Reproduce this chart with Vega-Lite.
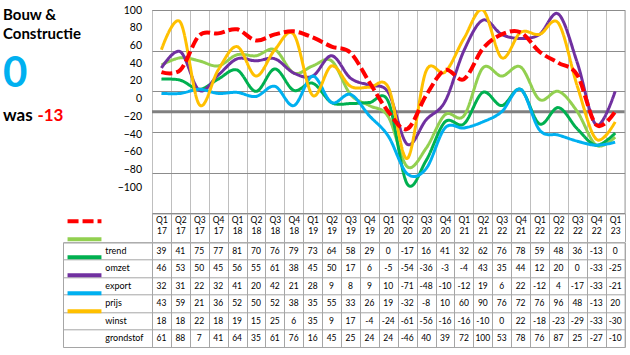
{
  "$schema": "https://vega.github.io/schema/vega-lite/v6.json",
  "background": "white",
  "padding": {"left": 3, "top": 4, "right": 0, "bottom": 0},
  "config": {"font": "Lato", "view": {"stroke": null}},
  "datasets": {
    "kw": [
      {"q": "Q1 17", "trend": 39, "omzet": 46, "export": 32, "prijs": 43, "winst": 18, "grondstof": 61},
      {"q": "Q2 17", "trend": 41, "omzet": 53, "export": 31, "prijs": 59, "winst": 18, "grondstof": 88},
      {"q": "Q3 17", "trend": 75, "omzet": 50, "export": 22, "prijs": 21, "winst": 22, "grondstof": 7},
      {"q": "Q4 17", "trend": 77, "omzet": 45, "export": 32, "prijs": 36, "winst": 18, "grondstof": 41},
      {"q": "Q1 18", "trend": 81, "omzet": 56, "export": 41, "prijs": 52, "winst": 19, "grondstof": 64},
      {"q": "Q2 18", "trend": 70, "omzet": 55, "export": 20, "prijs": 50, "winst": 15, "grondstof": 35},
      {"q": "Q3 18", "trend": 76, "omzet": 61, "export": 42, "prijs": 52, "winst": 25, "grondstof": 61},
      {"q": "Q4 18", "trend": 79, "omzet": 38, "export": 21, "prijs": 38, "winst": 6, "grondstof": 76},
      {"q": "Q1 19", "trend": 73, "omzet": 45, "export": 28, "prijs": 35, "winst": 35, "grondstof": 16},
      {"q": "Q2 19", "trend": 64, "omzet": 50, "export": 9, "prijs": 55, "winst": 9, "grondstof": 45},
      {"q": "Q3 19", "trend": 58, "omzet": 17, "export": 8, "prijs": 33, "winst": 17, "grondstof": 25},
      {"q": "Q4 19", "trend": 29, "omzet": 6, "export": 9, "prijs": 26, "winst": -4, "grondstof": 24},
      {"q": "Q1 20", "trend": 0, "omzet": -5, "export": 10, "prijs": 19, "winst": -24, "grondstof": 24},
      {"q": "Q2 20", "trend": -17, "omzet": -54, "export": -71, "prijs": -32, "winst": -61, "grondstof": -46},
      {"q": "Q3 20", "trend": 16, "omzet": -36, "export": -48, "prijs": -8, "winst": -56, "grondstof": 40},
      {"q": "Q4 20", "trend": 41, "omzet": -3, "export": -10, "prijs": 10, "winst": -16, "grondstof": 39},
      {"q": "Q1 21", "trend": 32, "omzet": -4, "export": -12, "prijs": 60, "winst": -16, "grondstof": 72},
      {"q": "Q2 21", "trend": 62, "omzet": 43, "export": 19, "prijs": 90, "winst": -10, "grondstof": 100},
      {"q": "Q3 22 ", "trend": 76, "omzet": 35, "export": 6, "prijs": 76, "winst": 0, "grondstof": 53},
      {"q": "Q4 21", "trend": 78, "omzet": 44, "export": 22, "prijs": 72, "winst": 22, "grondstof": 78},
      {"q": "Q1 22", "trend": 59, "omzet": 12, "export": -12, "prijs": 76, "winst": -18, "grondstof": 76},
      {"q": "Q2 22", "trend": 48, "omzet": 20, "export": 4, "prijs": 96, "winst": -23, "grondstof": 87},
      {"q": "Q3 22", "trend": 36, "omzet": 0, "export": -17, "prijs": 48, "winst": -29, "grondstof": 25},
      {"q": "Q4 22", "trend": -13, "omzet": -33, "export": -33, "prijs": -13, "winst": -33, "grondstof": -27},
      {"q": "Q1 23", "trend": 0, "omzet": -25, "export": -21, "prijs": 20, "winst": -30, "grondstof": -10}
    ]
  },
  "bounds": "flush",
  "align": "each",
  "columns": 3,
  "spacing": {"row": 28.3, "column": 0},
  "concat": [
    {
      "width": 59.4,
      "height": 203.4,
      "data": {"values": [{"vorige": "-13"}]},
      "title": {
        "text": ["Bouw &", "Constructie"],
        "subtitle": "0",
        "anchor": "start",
        "frame": "group",
        "orient": "top",
        "offset": -84.5,
        "fontSize": 15,
        "fontWeight": "bold",
        "color": "black",
        "lineHeight": 18.6,
        "subtitleFontSize": 42,
        "subtitleFontWeight": "bold",
        "subtitleColor": "#00B0F0",
        "subtitlePadding": 11.5
      },
      "layer": [
        {"mark": {"type": "text", "text": "was", "align": "right", "dx": 0, "dy": 9, "fontSize": 17, "fontWeight": "bold", "color": "black", "baseline": "alphabetic"}},
        {"mark": {"type": "text", "align": "left", "dx": 4.7, "dy": 9, "fontSize": 17, "fontWeight": "bold", "color": "#FF0000", "baseline": "alphabetic"}, "encoding": {"text": {"field": "vorige", "type": "nominal"}}}
      ]
    },
    {"width": 89, "height": 203.4, "data": {"values": []}, "mark": "text"},
    {
      "width": 472.6,
      "height": 203.4,
      "view": {"stroke": "#8C8C8C"},
      "resolve": {"scale": {"y": "independent"}, "axis": {"y": "independent"}},
      "layer": [
        {
          "layer": [
            {
              "data": {"values": [{"nul": 0}]},
              "mark": {"type": "rule", "color": "#808080", "strokeWidth": 3},
              "encoding": {
                "y": {"field": "nul", "type": "quantitative", "scale": {"domain": [-100, 100], "nice": false, "zero": false}}
              }
            },
            {
              "data": {"name": "kw"},
              "transform": [
                {"fold": ["trend", "omzet", "export", "prijs", "winst", "grondstof"], "as": ["reeks", "waarde"]},
                {"filter": "datum.reeks != 'trend'"}
              ],
              "mark": {"type": "line", "interpolate": "cardinal", "strokeWidth": 3, "clip": true},
              "encoding": {
                "x": {"field": "q", "type": "ordinal", "sort": null, "bandPosition": 0.5, "scale": {"type": "band", "paddingInner": 0, "paddingOuter": 0},
                  "axis": {"orient": "bottom", "title": null, "tickBand": "extent", "grid": true, "gridColor": "#BFBFBF", "ticks": true, "tickSize": 28.3, "tickColor": "#A6A6A6", "domain": false, "labelExpr": "split(trim(datum.label), ' ')", "labelBaseline": "top", "labelPadding": -26.5, "labelFontSize": 8.5, "labelLineHeight": 11, "labelColor": "black", "labelAngle": 0, "labelOverlap": false, "labelFlush": false}},
                "y": {"field": "waarde", "type": "quantitative", "scale": {"domain": [-100, 100], "nice": false, "zero": false},
                  "axis": {"orient": "right", "title": null, "values": [-100, -80, -60, -40, -20, 0, 20, 40, 60, 80, 100], "labels": false, "ticks": false, "domain": false, "grid": true, "gridColor": "#8C8C8C"}},
                "color": {"field": "reeks", "type": "nominal",
                  "scale": {"domain": ["trend", "omzet", "export", "prijs", "winst", "grondstof"], "range": ["#FF0000", "#92D050", "#00B050", "#7030A0", "#00B0F0", "#FFC000"]},
                  "legend": {"orient": "none", "legendX": 62.5, "legendY": 202.5, "title": null, "labelExpr": "''", "symbolType": "stroke", "symbolSize": 1150, "symbolStrokeWidth": 4, "labelFontSize": 10, "rowPadding": 0, "clipHeight": 17.66, "padding": 0, "offset": 0, "symbolOffset": 0, "labelOffset": 0, "direction": "vertical"}},
                "strokeDash": {"field": "reeks", "type": "nominal",
                  "scale": {"domain": ["trend", "omzet", "export", "prijs", "winst", "grondstof"], "range": [[11, 4], [1, 0], [1, 0], [1, 0], [1, 0], [1, 0]]},
                  "legend": {"orient": "none", "legendX": 62.5, "legendY": 202.5, "title": null, "labelExpr": "''", "symbolType": "stroke", "symbolSize": 1150, "symbolStrokeWidth": 4, "labelFontSize": 10, "rowPadding": 0, "clipHeight": 17.66, "padding": 0, "offset": 0, "symbolOffset": 0, "labelOffset": 0, "direction": "vertical"}}
              }
            },
            {
              "data": {"name": "kw"},
              "transform": [
                {"fold": ["trend", "omzet", "export", "prijs", "winst", "grondstof"], "as": ["reeks", "waarde"]},
                {"filter": "datum.reeks == 'trend'"}
              ],
              "mark": {"type": "line", "interpolate": "cardinal", "strokeWidth": 4, "clip": true},
              "encoding": {
                "x": {"field": "q", "type": "ordinal", "sort": null, "bandPosition": 0.5},
                "y": {"field": "waarde", "type": "quantitative"},
                "color": {"field": "reeks", "type": "nominal"},
                "strokeDash": {"field": "reeks", "type": "nominal"}
              }
            }
          ]
        },
        {
          "data": {"values": []},
          "mark": {"type": "text"},
          "encoding": {
            "y": {"field": "v", "type": "quantitative", "scale": {"domain": [-129.3, 100], "nice": false, "zero": false},
              "axis": {"orient": "left", "title": null, "values": [-100, -80, -60, -40, -20, 0, 20, 40, 60, 80, 100], "grid": false, "ticks": false, "domain": false, "labelFontSize": 10.5, "labelColor": "black", "labelPadding": 10.5}}
          }
        }
      ]
    },
    {"width": 59.4, "height": 104.7, "data": {"values": []}, "mark": "text"},
    {
      "width": 89,
      "height": 104.7,
      "view": {"stroke": "#A6A6A6"},
      "data": {"values": [{"reeks": "trend"}, {"reeks": "omzet"}, {"reeks": "export"}, {"reeks": "prijs"}, {"reeks": "winst"}, {"reeks": "grondstof"}]},
      "mark": {"type": "text", "align": "left", "dx": -2.2, "fontSize": 9, "color": "black"},
      "encoding": {
        "y": {"field": "reeks", "type": "nominal", "sort": ["trend", "omzet", "export", "prijs", "winst", "grondstof"], "bandPosition": 0.5, "scale": {"type": "band", "paddingInner": 0, "paddingOuter": 0},
          "axis": {"title": null, "labels": false, "ticks": false, "domain": false, "grid": true, "tickBand": "extent", "gridColor": "#A6A6A6"}},
        "text": {"field": "reeks", "type": "nominal"}
      }
    },
    {
      "width": 472.6,
      "height": 104.7,
      "view": {"stroke": "#A6A6A6"},
      "data": {"name": "kw"},
      "transform": [{"fold": ["trend", "omzet", "export", "prijs", "winst", "grondstof"], "as": ["reeks", "waarde"]}],
      "mark": {"type": "text", "fontSize": 8.5, "color": "black"},
      "encoding": {
        "x": {"field": "q", "type": "ordinal", "sort": null, "bandPosition": 0.5, "scale": {"type": "band", "paddingInner": 0, "paddingOuter": 0},
          "axis": {"title": null, "labels": false, "ticks": false, "domain": false, "grid": true, "tickBand": "extent", "gridColor": "#A6A6A6"}},
        "y": {"field": "reeks", "type": "nominal", "sort": ["trend", "omzet", "export", "prijs", "winst", "grondstof"], "bandPosition": 0.5, "scale": {"type": "band", "paddingInner": 0, "paddingOuter": 0},
          "axis": {"title": null, "labels": false, "ticks": false, "domain": false, "grid": true, "tickBand": "extent", "gridColor": "#A6A6A6"}},
        "text": {"field": "waarde", "type": "nominal"}
      }
    }
  ]
}
